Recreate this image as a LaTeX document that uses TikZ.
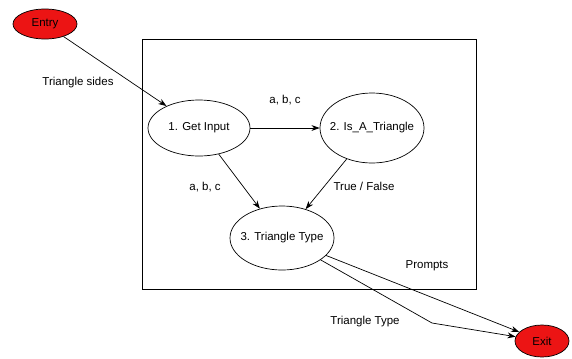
\documentclass[tikz,border=0pt]{standalone}
\usepackage{fontspec}
\setmainfont{Liberation Sans}
\usetikzlibrary{shapes.geometric,arrows.meta}
\definecolor{termred}{RGB}{236,20,20}
\begin{document}
\begin{tikzpicture}[%
    x=0.03cm, y=-0.03cm,
    font=\fontsize{9.8}{12}\selectfont,
    proc/.style={draw, ellipse, inner ysep=0pt, inner xsep=-8pt, line width=0.6pt},
    term/.style={proc, fill=termred},
    flow/.style={-{Stealth[length=7pt,width=5pt]}, line width=0.6pt}]
  \useasboundingbox (0,0) rectangle (572,358);
  % system boundary
  \draw[line width=0.6pt] (142,39) rectangle (476,289);
  \node [term, minimum width=1.92cm, minimum height=0.9cm] (entry) at (45,24) {Entry};
  \node [term, minimum width=1.62cm, minimum height=0.96cm] (exit) at (542,341) {Exit};
  \node [proc, minimum width=3.06cm, minimum height=1.68cm] (input) at (199,128) {1. Get Input};
  \node [proc, minimum width=3.12cm, minimum height=2.1cm] (istri) at (372,128) {2. Is\_A\_Triangle};
  \node [proc, minimum width=3.12cm, minimum height=1.92cm] (type) at (282,238) {3. Triangle Type};
  \coordinate (bend) at (432,323);
  % data flows
  \draw[flow] (entry) -- (input);
  \draw[flow] (input) -- (istri);
  \draw[flow] (input) -- (type);
  \draw[flow] (istri) -- (type);
  \draw[flow] (type) -- (exit);
  \draw[flow] (type) -- (bend) -- (exit);
  % labels
  \node (lsides) at (78,83) {Triangle sides};
  \node (labc1) at (285,100) {a, b, c};
  \node (labc2) at (205,187) {a, b, c};
  \node (ltf) at (364,186) {True / False};
  \node (lprompts) at (427,266) {Prompts};
  \node (ltype) at (365,322) {Triangle Type};
\end{tikzpicture}
\end{document}
